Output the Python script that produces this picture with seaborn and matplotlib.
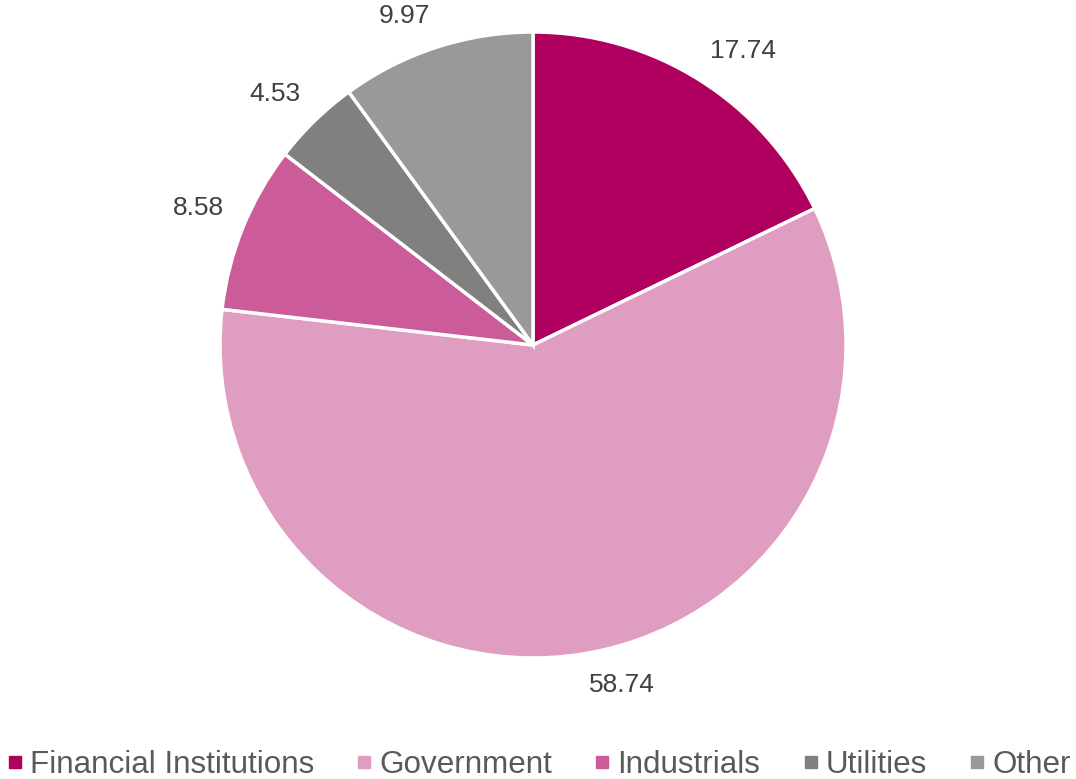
import matplotlib
matplotlib.use("Agg")
import numpy as np
import matplotlib.pyplot as plt
import seaborn as sns
from matplotlib.lines import Line2D

categories = ["Financial Institutions", "Government", "Industrials", "Utilities", "Other"]
values = [17.74, 58.74, 8.58, 4.53, 9.97]
colors = ["#AF005F", "#DF9DC2", "#CC5C99", "#808080", "#999999"]

sns.set_theme(style="white")
plt.rcParams['font.family'] = ['Liberation Sans', 'DejaVu Sans']

W, H = 1076, 779
fig = plt.figure(figsize=(W / 100, H / 100), dpi=100)
ax = fig.add_axes([0, 0, 1, 1])
R = 313.0
cx, cy = 533.0, 345.0
total = sum(values)

wedges, texts, autotexts = ax.pie(
    values, colors=colors, startangle=90, counterclock=False,
    wedgeprops=dict(edgecolor="white", linewidth=2.5),
    autopct=lambda p: f"{p * total / 100:.2f}", pctdistance=1.1,
    textprops=dict(fontsize=19, color="#404040"), radius=1.0)

# place labels outside end: nearest corner of the label sits just outside the rim
gap = 1.0 + 20.0 / R
for w, t in zip(wedges, autotexts):
    ang = np.deg2rad((w.theta1 + w.theta2) / 2.0)
    ux, uy = np.cos(ang), np.sin(ang)
    t.set_position((ux * gap, uy * gap))
    t.set_ha("left" if ux >= 0 else "right")
    t.set_va("bottom" if uy >= 0 else "top")

ax.set_xlim(-cx / R, (W - cx) / R)
ax.set_ylim(-(H - cy) / R, cy / R)
ax.set_aspect("auto")
ax.axis("off")

handles = [Line2D([0], [0], marker="s", linestyle="none", markersize=8,
                  markerfacecolor=c, markeredgecolor=c) for c in colors]
fig.legend(handles, categories, loc="lower center", bbox_to_anchor=(0.5014, -0.033),
           ncol=5, frameon=False, fontsize=22.6, handlelength=0.4, handletextpad=0.28,
           columnspacing=1.4, labelcolor="#595959", borderpad=0.3)

fig.savefig("out.png", dpi=100)
